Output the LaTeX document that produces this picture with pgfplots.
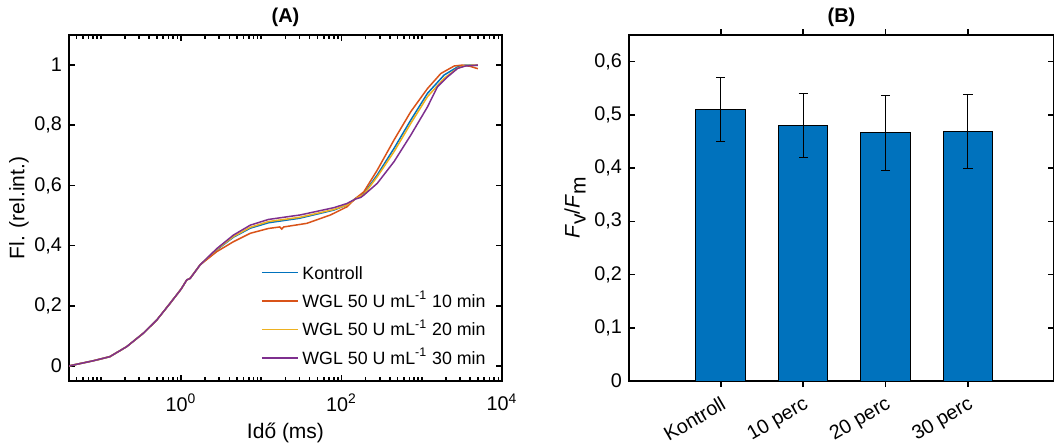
\documentclass[border=0pt]{standalone}
\usepackage{fontspec}
\setmainfont{Liberation Sans}
\usepackage{pgfplots}
\pgfplotsset{compat=1.18}
\definecolor{mblue}{HTML}{0072BD}
\definecolor{morange}{HTML}{D95319}
\definecolor{myellow}{HTML}{EDB120}
\definecolor{mpurple}{HTML}{7E2F8E}

\pgfplotsset{
  mstyle/.style={
    scale only axis, tick align=inside,
    axis line style={line width=0.9pt},
    every tick/.style={black, line width=0.8pt},
    major tick length=3pt, minor tick length=1.8pt,
    tick label style={font=\fontsize{9.9}{11}\selectfont},
    label style={font=\fontsize{10.5}{12}\selectfont},
    every axis title/.style={at={(0.5,1)}, anchor=south, yshift=0.5pt,
      font=\fontsize{10}{12}\selectfont\bfseries},
    /pgf/number format/assume math mode=true,
    /pgf/number format/use comma,
  },
}
\tikzset{leg/.style={anchor=base west, inner sep=0pt, font=\fontsize{8.9}{10}\selectfont}}

% OJIP curves (time in ms, relative intensity)
\pgfplotstableread{
t y
0.04 0.000
0.06 0.010
0.08 0.017
0.13 0.031
0.21 0.064
0.34 0.109
0.5 0.153
0.73 0.208
1.0 0.255
1.18 0.286
1.3 0.291
1.73 0.336
2.79 0.386
4.5 0.428
7.3 0.458
12.3 0.476
30 0.491
80 0.518
117 0.535
150 0.557
190 0.573
279 0.635
451 0.723
729 0.817
1178 0.906
1900 0.967
2800 0.994
3500 1.000
5000 0.999
}\kontroll

\pgfplotstableread{
t y
0.04 0.000
0.06 0.010
0.08 0.017
0.13 0.031
0.21 0.064
0.34 0.109
0.5 0.153
0.73 0.208
1.0 0.255
1.18 0.286
1.3 0.291
1.73 0.336
2.79 0.380
4.5 0.413
7.3 0.441
12.3 0.457
17 0.462
18 0.455
19 0.462
37 0.474
73 0.502
117 0.529
150 0.557
190 0.579
279 0.651
451 0.751
729 0.845
1178 0.922
1728 0.972
2535 0.997
3200 1.000
4000 0.996
5000 0.988
}\tenmin

\pgfplotstableread{
t y
0.04 0.000
0.06 0.010
0.08 0.017
0.13 0.031
0.21 0.064
0.34 0.109
0.5 0.153
0.73 0.208
1.0 0.255
1.18 0.286
1.3 0.291
1.73 0.336
2.79 0.388
4.5 0.430
7.3 0.461
12.3 0.480
30 0.494
80 0.520
117 0.535
150 0.556
190 0.570
279 0.629
451 0.712
729 0.806
1178 0.895
1900 0.956
2800 0.990
3500 0.999
5000 1.000
}\twentymin

\pgfplotstableread{
t y
0.04 0.000
0.06 0.010
0.08 0.017
0.13 0.031
0.21 0.064
0.34 0.109
0.5 0.153
0.73 0.208
1.0 0.255
1.18 0.286
1.3 0.291
1.73 0.336
2.79 0.390
4.5 0.435
7.3 0.468
12.3 0.487
30.7 0.502
80 0.526
117 0.540
150 0.555
173 0.560
190 0.568
279 0.607
451 0.679
729 0.767
1178 0.861
1570 0.928
2097 0.961
2800 0.989
3500 0.997
5000 1.000
}\thirtymin

\begin{document}
\begin{tikzpicture}
\useasboundingbox (0,0) rectangle (527pt,223.5pt);

\begin{axis}[mstyle,
  at={(34.5pt,33pt)}, anchor=south west,
  width=216.5pt, height=173pt,
  xmode=log, xmin=0.0402, xmax=10000,
  ymin=-0.05, ymax=1.1,
  xtick={1,100,10000},
  xticklabels={10\textsuperscript{0},10\textsuperscript{2},10\textsuperscript{4}},
  minor xtick={0.05,0.06,0.07,0.08,0.09,0.1,0.2,0.3,0.4,0.5,0.6,0.7,0.8,0.9,2,3,4,5,6,7,8,9,10,20,30,40,50,60,70,80,90,200,300,400,500,600,700,800,900,1000,2000,3000,4000,5000,6000,7000,8000,9000},
  x tick label style={yshift=-3pt},
  ytick={0,0.2,0.4,0.6,0.8,1},
  title={(A)},
  xlabel={Idő (ms)},
  ylabel={Fl. (rel.int.)},
  xlabel style={at={(axis description cs:0.5,-0.150)}, anchor=center},
  ylabel style={at={(axis description cs:-0.1155,0.5)}, anchor=center},
]
\addplot[mblue, line width=0.75pt] table[x=t, y=y] {\kontroll};
\addplot[morange, line width=0.75pt] table[x=t, y=y] {\tenmin};
\addplot[myellow, line width=0.75pt] table[x=t, y=y] {\twentymin};
\addplot[mpurple, line width=0.75pt] table[x=t, y=y] {\thirtymin};
% legend, no frame (as in the MATLAB figure)
\draw[mblue, line width=0.75pt] (axis description cs:0.4457,0.3130) -- (axis description cs:0.5289,0.3130);
\draw[morange, line width=0.75pt] (axis description cs:0.4457,0.2312) -- (axis description cs:0.5289,0.2312);
\draw[myellow, line width=0.75pt] (axis description cs:0.4457,0.1488) -- (axis description cs:0.5289,0.1488);
\draw[mpurple, line width=0.75pt] (axis description cs:0.4457,0.0665) -- (axis description cs:0.5289,0.0665);
\node[leg] at (axis description cs:0.5381,0.2948) {Kontroll};
\node[leg] at (axis description cs:0.5381,0.2124) {WGL 50 U mL\textsuperscript{-1} 10 min};
\node[leg] at (axis description cs:0.5381,0.1301) {WGL 50 U mL\textsuperscript{-1} 20 min};
\node[leg] at (axis description cs:0.5381,0.0477) {WGL 50 U mL\textsuperscript{-1} 30 min};
\end{axis}

\begin{axis}[mstyle,
  at={(314.5pt,33pt)}, anchor=south west,
  width=212.5pt, height=173pt,
  ybar, bar width=0.6,
  xmin=-0.113, xmax=5.045,
  ymin=0, ymax=0.65,
  xtick={1,2,3,4},
  xticklabels={Kontroll,10 perc,20 perc,30 perc},
  x tick label style={rotate=30, anchor=north east, xshift=1pt, yshift=0pt},
  ytick={0,0.1,0.2,0.3,0.4,0.5,0.6},
  title={(B)},
  ylabel={\textit{F}\raisebox{-3pt}{v}/\textit{F}\raisebox{-3pt}{m}},
  ylabel style={at={(axis description cs:-0.127,0.5)}, anchor=center},
]
\addplot[fill=mblue, draw=black, line width=0.5pt,
  error bars/.cd, y dir=both, y explicit,
  error bar style={line width=0.5pt, black},
  error mark options={rotate=90, mark size=2.3pt, line width=0.5pt, black}]
  coordinates {
    (1,0.510) +- (0,0.060)
    (2,0.480) +- (0,0.060)
    (3,0.466) +- (0,0.070)
    (4,0.469) +- (0,0.070)
  };
\end{axis}
\end{tikzpicture}
\end{document}
